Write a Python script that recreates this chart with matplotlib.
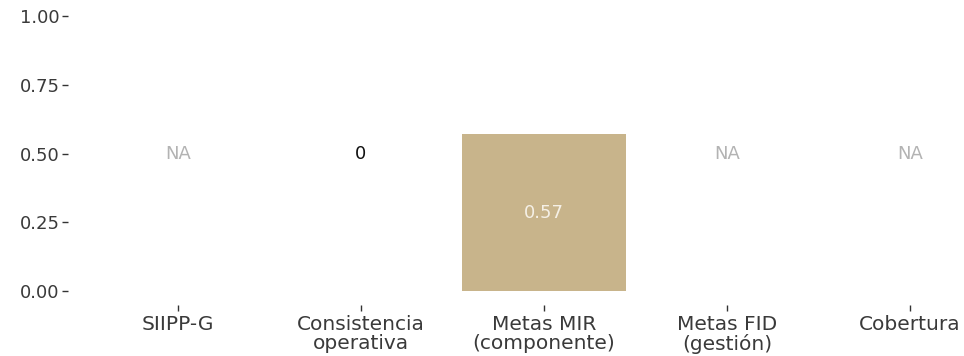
import numpy as np
import matplotlib.pyplot as plt

categorias = ['SIIPP-G', 'Consistencia\noperativa', 'Metas MIR\n(componente)',
              'Metas FID\n(gestión)', 'Cobertura']
valores = [np.nan, 0.0, 0.57, np.nan, np.nan]
etiquetas = ['NA', '0', '0.57', 'NA', 'NA']

plt.rcParams['font.family'] = ['DejaVu Sans']

fig = plt.figure(figsize=(9.64, 3.56), dpi=100)
ax = fig.add_axes([68/964, 1 - 305/356, 1 - 68/964, 303/356])

x = np.arange(len(categorias))
alturas = np.nan_to_num(valores)
ax.bar(x, alturas, width=0.9, color='#c8b48b', zorder=2)

for xi, v, lab in zip(x, valores, etiquetas):
    if np.isnan(v):
        ax.text(xi, 0.5, lab, ha='center', va='center', color='#b3b3b3', fontsize=13)
    elif v == 0:
        ax.text(xi, 0.5, lab, ha='center', va='center', color='#111111', fontsize=13)
    else:
        ax.text(xi, v / 2, lab, ha='center', va='center', color='#f5f0e6', fontsize=13)

ax.set_xlim(-0.6, 4.295)
ax.set_ylim(-0.05, 1.05)
ax.set_yticks([0, 0.25, 0.5, 0.75, 1.0])
ax.set_yticklabels(['0.00', '0.25', '0.50', '0.75', '1.00'])
ax.set_xticks(x)
ax.set_xticklabels(categorias, linespacing=1.0)
ax.tick_params(axis='both', colors='#333333', labelcolor='#3a3a3a',
               length=4, width=1.0)
ax.tick_params(axis='x', pad=3, labelsize=14.5)
ax.tick_params(axis='y', pad=2, labelsize=13)
for s in ax.spines.values():
    s.set_visible(False)

fig.savefig('out.png', dpi=100)
